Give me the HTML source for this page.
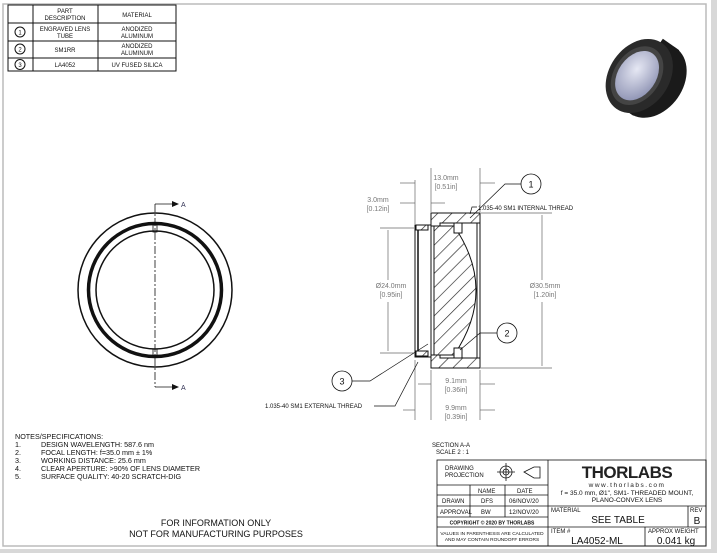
<!DOCTYPE html>
<html><head><meta charset="utf-8"><style>
html,body{margin:0;padding:0;background:#fff;}
body{width:717px;height:553px;overflow:hidden;position:relative;font-family:"Liberation Sans",sans-serif;}
</style></head><body>
<svg width="717" height="553" viewBox="0 0 717 553" xmlns="http://www.w3.org/2000/svg" font-family="Liberation Sans, sans-serif">
<defs>
<pattern id="h" patternUnits="userSpaceOnUse" width="10" height="10" patternTransform="rotate(45)">
<rect width="10" height="10" fill="#fff"/><line x1="0" y1="0" x2="0" y2="10" stroke="#222" stroke-width="1.3"/></pattern>
<radialGradient id="g" cx="0.4" cy="0.4" r="0.7"><stop offset="0" stop-color="#e6e8f4"/><stop offset="1" stop-color="#8a8fb0"/></radialGradient>
</defs>
<rect x="0" y="0" width="717" height="553" fill="#fff"/>
<rect x="711" y="0" width="6" height="553" fill="#d8d8d8"/>
<rect x="0" y="549" width="717" height="4" fill="#d8d8d8"/>
<rect x="3" y="4" width="703" height="542" fill="none" stroke="#bbb" stroke-width="1.5"/>
<!-- parts table -->
<g stroke="#111" stroke-width="1" fill="none">
<rect x="8" y="5" width="168" height="66"/>
<line x1="33" y1="5" x2="33" y2="71"/><line x1="98" y1="5" x2="98" y2="71"/>
<line x1="8" y1="23" x2="176" y2="23"/><line x1="8" y1="41" x2="176" y2="41"/><line x1="8" y1="58" x2="176" y2="58"/>
<circle cx="20" cy="32" r="5"/><circle cx="20" cy="49" r="5"/><circle cx="20" cy="64.5" r="5"/>
</g>
<g font-size="6" fill="#111" text-anchor="middle">
<text x="65" y="13">PART</text><text x="65" y="20">DESCRIPTION</text><text x="137" y="17">MATERIAL</text>
<text x="20" y="34.5">1</text><text x="20" y="51.5">2</text><text x="20" y="67">3</text>
<text x="65" y="31">ENGRAVED LENS</text><text x="65" y="38">TUBE</text>
<text x="137" y="31">ANODIZED</text><text x="137" y="38">ALUMINUM</text>
<text x="65" y="52">SM1RR</text>
<text x="137" y="48">ANODIZED</text><text x="137" y="55">ALUMINUM</text>
<text x="65" y="67">LA4052</text><text x="137" y="67">UV FUSED SILICA</text>
</g>
<!-- photo -->
<g transform="rotate(35 645 80)">
<ellipse cx="652" cy="76" rx="30" ry="40" fill="#1a1a1a"/>
<rect x="636" y="36" width="20" height="80" fill="#1a1a1a"/>
<ellipse cx="638" cy="80" rx="30" ry="40" fill="#2a2a2a"/>
<ellipse cx="636" cy="81" rx="23" ry="32" fill="#444"/>
<ellipse cx="636" cy="81" rx="19" ry="27" fill="url(#g)"/>
</g>
<!-- front view -->
<g fill="none" stroke="#111">
<circle cx="155" cy="290" r="77" stroke-width="1.5"/>
<circle cx="155" cy="290" r="66.5" stroke-width="3.5"/>
<circle cx="155" cy="290" r="59" stroke-width="1.5"/>
<line x1="155" y1="204" x2="155" y2="387" stroke-width="0.8" stroke-dasharray="8,2,2,2"/>
<polyline points="155,204 172,204" stroke-width="0.8"/><polyline points="155,387 172,387" stroke-width="0.8"/>
<rect x="153" y="225" width="4" height="7" stroke-width="0.8"/><rect x="153" y="349" width="4" height="7" stroke-width="0.8"/>
</g>
<polygon points="172,201 179,204 172,207" fill="#111"/><polygon points="172,384 179,387 172,390" fill="#111"/>
<text x="181" y="207" font-size="7" fill="#335">A</text><text x="181" y="390" font-size="7" fill="#335">A</text>
<!-- section view -->
<g stroke="#111" stroke-width="1">
<path d="M431,213 H480 V223 H440 V226 H431 Z" fill="url(#h)"/>
<path d="M431,368 H480 V358 H440 V355 H431 Z" fill="url(#h)"/>
<line x1="480" y1="223" x2="480" y2="358"/>
<line x1="477" y1="223" x2="477" y2="358"/>
<path d="M415,225 H431 V357 H415 Z" fill="#fff"/>
<path d="M416,225 H428 V230 H416 Z" fill="url(#h)"/>
<path d="M416,351 H428 V356 H416 Z" fill="url(#h)"/>
<line x1="418" y1="230" x2="418" y2="351" stroke-width="1.5"/>
<path d="M434,226 L454,226 Q498,290 454,355 L434,355 Z" fill="url(#h)"/>
<line x1="459" y1="223" x2="459" y2="234"/>
<line x1="459" y1="347" x2="459" y2="358"/>
<rect x="454" y="223" width="8" height="10" fill="#fff"/>
<rect x="454" y="348" width="8" height="10" fill="#fff"/>
</g>
<!-- dimension lines -->
<g stroke="#666" stroke-width="0.7" fill="none">
<line x1="431" y1="168" x2="431" y2="212"/><line x1="480" y1="168" x2="480" y2="212"/>
<line x1="415" y1="180" x2="415" y2="224"/>
<line x1="400" y1="183" x2="415" y2="183"/><line x1="480" y1="183" x2="495" y2="183"/>
<line x1="400" y1="203" x2="415" y2="203"/><line x1="431" y1="203" x2="445" y2="203"/>
<line x1="380" y1="228" x2="414" y2="228"/><line x1="380" y1="353" x2="414" y2="353"/>
<line x1="388" y1="230" x2="388" y2="280"/><line x1="388" y1="302" x2="388" y2="351"/>
<line x1="481" y1="213" x2="552" y2="213"/><line x1="481" y1="368" x2="552" y2="368"/>
<line x1="542" y1="215" x2="542" y2="280"/><line x1="542" y1="302" x2="542" y2="366"/>
<line x1="431" y1="370" x2="431" y2="420"/><line x1="480" y1="370" x2="480" y2="420"/><line x1="415" y1="360" x2="415" y2="420"/>
<line x1="418" y1="384" x2="431" y2="384"/><line x1="480" y1="384" x2="495" y2="384"/>
<line x1="403" y1="410" x2="415" y2="410"/><line x1="480" y1="410" x2="495" y2="410"/>
</g>
<g font-size="7" fill="#777" text-anchor="middle">
<text x="446" y="180">13.0mm</text><text x="446" y="189">[0.51in]</text>
<text x="378" y="202">3.0mm</text><text x="378" y="211">[0.12in]</text>
<text x="391" y="288">Ø24.0mm</text><text x="391" y="297">[0.95in]</text>
<text x="545" y="288">Ø30.5mm</text><text x="545" y="297">[1.20in]</text>
<text x="456" y="383">9.1mm</text><text x="456" y="392">[0.36in]</text>
<text x="456" y="410">9.9mm</text><text x="456" y="419">[0.39in]</text>
</g>
<!-- balloons and leaders -->
<g stroke="#111" stroke-width="0.8" fill="#fff">
<circle cx="531" cy="184" r="10"/><circle cx="507" cy="333" r="10"/><circle cx="342" cy="381" r="10"/>
</g>
<g stroke="#111" stroke-width="0.7" fill="none">
<polyline points="521,184 505,184 470,218"/>
<polyline points="477,207 472,207 470,214"/>
<polyline points="497,333 480,333 460,350"/>
<polyline points="352,381 370,381 428,344"/>
<polyline points="374,406 395,406 418,362"/>
</g>
<g font-size="9" fill="#111" text-anchor="middle"><text x="531" y="187.5">1</text><text x="507" y="336.5">2</text><text x="342" y="384.5">3</text></g>
<text x="478" y="210" font-size="6" fill="#111">1.035-40 SM1 INTERNAL THREAD</text>
<text x="265" y="408" font-size="6" fill="#111">1.035-40 SM1 EXTERNAL THREAD</text>
<!-- notes -->
<g font-size="7.2" fill="#111">
<text x="15" y="439">NOTES/SPECIFICATIONS:</text>
<text x="15" y="447">1.</text><text x="41" y="447">DESIGN WAVELENGTH: 587.6 nm</text>
<text x="15" y="455">2.</text><text x="41" y="455">FOCAL LENGTH: f=35.0 mm ± 1%</text>
<text x="15" y="463">3.</text><text x="41" y="463">WORKING DISTANCE: 25.6 mm</text>
<text x="15" y="471">4.</text><text x="41" y="471">CLEAR APERTURE: &gt;90% OF LENS DIAMETER</text>
<text x="15" y="479">5.</text><text x="41" y="479">SURFACE QUALITY: 40-20 SCRATCH-DIG</text>
</g>
<g font-size="9" fill="#111" text-anchor="middle"><text x="216" y="526">FOR INFORMATION ONLY</text><text x="216" y="537">NOT FOR MANUFACTURING PURPOSES</text></g>
<g font-size="6" fill="#111"><text x="432" y="447">SECTION A-A</text><text x="436" y="454">SCALE 2 : 1</text></g>
<!-- title block -->
<g stroke="#111" stroke-width="0.8" fill="none">
<rect x="437" y="460" width="269" height="86"/>
<line x1="548" y1="460" x2="548" y2="546"/>
<line x1="437" y1="485" x2="548" y2="485"/><line x1="437" y1="495" x2="548" y2="495"/>
<line x1="437" y1="506" x2="548" y2="506"/><line x1="437" y1="517" x2="548" y2="517"/><line x1="437" y1="527" x2="706" y2="527"/>
<line x1="470" y1="485" x2="470" y2="517"/><line x1="505" y1="485" x2="505" y2="517"/>
<line x1="548" y1="506" x2="706" y2="506"/>
<line x1="688" y1="506" x2="688" y2="527"/><line x1="645" y1="527" x2="645" y2="546"/>
<circle cx="506" cy="472" r="6"/><circle cx="506" cy="472" r="3"/>
<line x1="497" y1="472" x2="515" y2="472"/><line x1="506" y1="463" x2="506" y2="481"/>
<polygon points="524,472 534,467 540,467 540,478 534,478"/>
</g>
<g font-size="6" fill="#111">
<text x="445" y="470">DRAWING</text><text x="445" y="477">PROJECTION</text>
<text x="478" y="493">NAME</text><text x="517" y="493">DATE</text>
<text x="442" y="503">DRAWN</text><text x="481" y="503">DFS</text><text x="509" y="503">06/NOV/20</text>
<text x="440" y="514">APPROVAL</text><text x="481" y="514">BW</text><text x="509" y="514">12/NOV/20</text>
<text x="492" y="524.5" text-anchor="middle" font-size="5" font-weight="bold">COPYRIGHT © 2020 BY THORLABS</text>
<text x="492" y="535" text-anchor="middle" font-size="4.8">VALUES IN PARENTHESIS ARE CALCULATED</text>
<text x="492" y="541" text-anchor="middle" font-size="4.8">AND MAY CONTAIN ROUNDOFF ERRORS</text>
<text x="551" y="512">MATERIAL</text><text x="690" y="512">REV</text>
<text x="551" y="533">ITEM #</text><text x="648" y="533">APPROX WEIGHT</text>
</g>
<text x="627" y="478" font-size="17" font-weight="bold" fill="#222" text-anchor="middle" letter-spacing="-0.5">THORLABS</text>
<text x="627" y="487" font-size="6.5" fill="#222" text-anchor="middle" letter-spacing="1.5">www.thorlabs.com</text>
<text x="627" y="495" font-size="6.5" fill="#111" text-anchor="middle">f = 35.0 mm, Ø1", SM1- THREADED MOUNT,</text>
<text x="627" y="502" font-size="6.5" fill="#111" text-anchor="middle">PLANO-CONVEX LENS</text>
<text x="618" y="523" font-size="10" fill="#111" text-anchor="middle">SEE TABLE</text>
<text x="697" y="524" font-size="10" fill="#111" text-anchor="middle">B</text>
<text x="597" y="544" font-size="10" fill="#111" text-anchor="middle">LA4052-ML</text>
<text x="676" y="544" font-size="10" fill="#111" text-anchor="middle">0.041 kg</text>
</svg>
</body></html>
